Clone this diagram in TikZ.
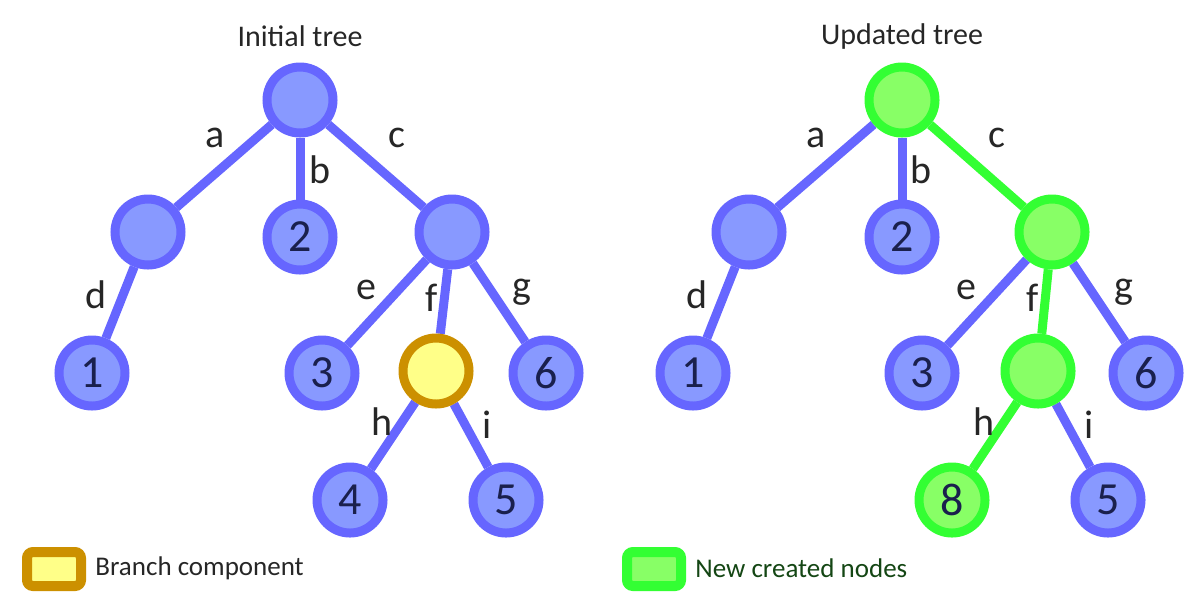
\documentclass[tikz,border=0pt]{standalone}
\usepackage{fontspec}
\setmainfont{Carlito}
\usetikzlibrary{backgrounds}

\definecolor{blueline}{RGB}{102,102,255}
\definecolor{bluefill}{RGB}{136,153,255}
\definecolor{goldline}{RGB}{204,144,0}
\definecolor{goldfill}{RGB}{255,255,136}
\definecolor{greenline}{RGB}{51,255,51}
\definecolor{greenfill}{RGB}{136,255,102}
\definecolor{numtext}{RGB}{26,32,77}
\definecolor{labtext}{RGB}{38,38,38}

\tikzset{
  tnode/.style={circle,minimum size=33pt,inner sep=0pt,line width=4.5pt,draw=blueline,fill=bluefill,text=numtext,font=\fontsize{23}{26}\selectfont},
  ynode/.style={tnode,draw=goldline,fill=goldfill},
  gnode/.style={tnode,draw=greenline,fill=greenfill},
  tedge/.style={line width=4.5pt,draw=blueline},
  gedge/.style={tedge,draw=greenline},
  elabel/.style={text=labtext,inner sep=0pt,font=\fontsize{20}{24}\selectfont},
  ttitle/.style={text=labtext,inner sep=0pt,font=\fontsize{15}{18}\selectfont},
  legbox/.style={rounded corners=3pt,line width=5pt},
  legtext/.style={anchor=west,inner sep=0pt,font=\fontsize{13.5}{16}\selectfont}
}

\begin{document}
\begin{tikzpicture}[x=0.5pt,y=0.5pt,yscale=-1,xscale=1]
\useasboundingbox (0,0) rectangle (1202,602);

% initial tree
\node [ttitle] (t1) at (300,36) {Initial tree};
\node [tnode] (r1) at (300,100) {};
\node [tnode] (a1) at (148,232) {};
\node [tnode] (n2a) at (300,237) {2};
\node [tnode] (c1) at (452,232) {};
\node [tnode] (n1a) at (92,373) {1};
\node [tnode] (n3a) at (322,373) {3};
\node [ynode] (y1) at (436,371) {};
\node [tnode] (n6a) at (546,373) {6};
\node [tnode] (n4a) at (350,500) {4};
\node [tnode] (n5a) at (506,500) {5};
\begin{scope}[on background layer]
\draw [tedge] (r1) -- (a1);
\draw [tedge] (r1) -- (n2a);
\draw [tedge] (r1) -- (c1);
\draw [tedge] (a1) -- (n1a);
\draw [tedge] (c1) -- (n3a);
\draw [tedge] (c1) -- (y1);
\draw [tedge] (c1) -- (n6a);
\draw [tedge] (y1) -- (n4a);
\draw [tedge] (y1) -- (n5a);
\end{scope}
\node [elabel] (la1) at (215,138) {a};
\node [elabel] (lb1) at (320,170) {b};
\node [elabel] (lc1) at (397,138) {c};
\node [elabel] (ld1) at (96,295) {d};
\node [elabel] (le1) at (366,290) {e};
\node [elabel] (lf1) at (432,298) {f};
\node [elabel] (lg1) at (522,292) {g};
\node [elabel] (lh1) at (382,422) {h};
\node [elabel] (li1) at (487,425) {i};

% updated tree
\node [ttitle] (t2) at (902,36) {Updated tree};
\node [gnode] (r2) at (902,100) {};
\node [tnode] (a2) at (749,232) {};
\node [tnode] (n2b) at (902,237) {2};
\node [gnode] (c2) at (1052,232) {};
\node [tnode] (n1b) at (693,373) {1};
\node [tnode] (n3b) at (922,373) {3};
\node [gnode] (f2) at (1038,371) {};
\node [tnode] (n6b) at (1146,373) {6};
\node [gnode] (n8b) at (952,500) {8};
\node [tnode] (n5b) at (1108,500) {5};
\begin{scope}[on background layer]
\draw [tedge] (r2) -- (a2);
\draw [tedge] (r2) -- (n2b);
\draw [gedge] (r2) -- (c2);
\draw [tedge] (a2) -- (n1b);
\draw [tedge] (c2) -- (n3b);
\draw [gedge] (c2) -- (f2);
\draw [tedge] (c2) -- (n6b);
\draw [gedge] (f2) -- (n8b);
\draw [tedge] (f2) -- (n5b);
\end{scope}
\node [elabel] (la2) at (816,138) {a};
\node [elabel] (lb2) at (921,170) {b};
\node [elabel] (lc2) at (997,138) {c};
\node [elabel] (ld2) at (697,295) {d};
\node [elabel] (le2) at (966,290) {e};
\node [elabel] (lf2) at (1033,298) {f};
\node [elabel] (lg2) at (1124,292) {g};
\node [elabel] (lh2) at (984,422) {h};
\node [elabel] (li2) at (1089,425) {i};

% legends
\draw [legbox,draw=goldline,fill=goldfill] (27,552) rectangle (81,586);
\node [legtext,text=labtext] (lg1txt) at (95,568) {Branch component};
\draw [legbox,draw=greenline,fill=greenfill] (627,552) rectangle (681,586);
\node [legtext,text={rgb,255:red,20;green,70;blue,20}] (lg2txt) at (695,568) {New created nodes};
\end{tikzpicture}
\end{document}
